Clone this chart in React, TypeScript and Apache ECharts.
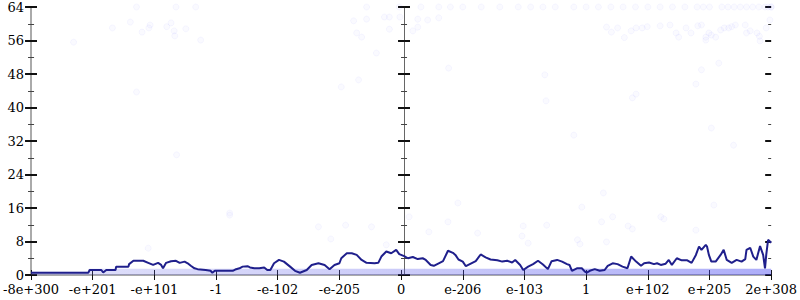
import React, { useEffect, useRef } from "react";
import * as echarts from "echarts";

const xTickLabels = ["-8e+300", "-e+201", "-e+101", "-1", "-e-102", "-e-205", "0", "e-206", "e-103", "1", "e+102", "e+205", "2e+308"];

const lineX = [0.00, 0.93, 0.95, 1.14, 1.17, 1.22, 1.37, 1.38, 1.58, 1.59, 1.66, 1.82, 1.90, 1.98, 2.06, 2.11, 2.14, 2.19, 2.27, 2.35, 2.41, 2.49, 2.54, 2.59, 2.65, 2.70, 2.83, 2.91, 2.94, 2.98, 3.10, 3.27, 3.31, 3.38, 3.43, 3.51, 3.55, 3.62, 3.70, 3.78, 3.83, 3.88, 3.94, 4.02, 4.10, 4.20, 4.28, 4.36, 4.47, 4.55, 4.66, 4.76, 4.84, 4.92, 5.00, 5.03, 5.12, 5.20, 5.28, 5.36, 5.44, 5.57, 5.63, 5.68, 5.76, 5.84, 5.92, 5.97, 6.05, 6.11, 6.19, 6.27, 6.35, 6.40, 6.48, 6.53, 6.61, 6.68, 6.76, 6.84, 6.88, 6.93, 7.00, 7.05, 7.13, 7.21, 7.29, 7.37, 7.45, 7.56, 7.64, 7.72, 7.80, 7.85, 7.93, 7.98, 8.06, 8.14, 8.22, 8.30, 8.38, 8.44, 8.53, 8.61, 8.69, 8.73, 8.77, 8.85, 8.93, 8.98, 9.01, 9.06, 9.14, 9.22, 9.30, 9.35, 9.43, 9.51, 9.59, 9.67, 9.73, 9.81, 9.89, 9.94, 10.02, 10.10, 10.15, 10.21, 10.29, 10.34, 10.39, 10.47, 10.55, 10.64, 10.71, 10.78, 10.83, 10.87, 10.94, 10.96, 10.99, 11.03, 11.10, 11.18, 11.23, 11.28, 11.36, 11.44, 11.52, 11.58, 11.60, 11.66, 11.71, 11.76, 11.82, 11.87, 11.90, 11.92, 11.95, 11.98, 12.00];
const lineY = [0.55, 0.55, 1.2, 1.2, 0.6, 1.2, 1.2, 2.0, 2.0, 2.6, 3.4, 3.4, 2.9, 2.4, 2.9, 2.4, 1.6, 2.9, 3.3, 3.4, 2.9, 3.2, 2.8, 2.2, 1.6, 1.4, 1.2, 1.0, 0.55, 1.0, 1.0, 1.0, 1.3, 1.6, 2.0, 2.1, 1.8, 1.6, 1.6, 1.8, 1.2, 1.2, 2.8, 3.6, 3.2, 2.0, 1.0, 0.55, 1.2, 2.4, 2.8, 2.4, 1.4, 2.4, 2.8, 4.0, 5.2, 5.2, 4.8, 3.6, 2.9, 2.8, 2.9, 4.4, 5.6, 5.2, 6.0, 5.0, 4.5, 4.0, 4.3, 3.8, 4.0, 3.6, 2.4, 2.2, 2.8, 3.3, 5.8, 5.3, 4.8, 3.7, 3.2, 2.1, 2.7, 3.3, 4.9, 4.2, 3.7, 3.5, 3.2, 3.4, 3.0, 3.6, 2.4, 1.2, 2.0, 2.6, 3.4, 2.5, 1.4, 3.3, 3.6, 3.2, 2.6, 2.4, 1.0, 1.6, 1.6, 0.8, 0.55, 1.0, 1.4, 1.0, 1.2, 2.2, 2.8, 2.6, 2.0, 1.6, 4.4, 3.2, 2.2, 2.8, 3.0, 2.6, 2.8, 2.4, 2.7, 3.6, 2.4, 4.0, 3.5, 3.5, 2.9, 4.8, 6.8, 6.0, 7.2, 6.8, 4.8, 3.2, 3.2, 4.8, 6.0, 3.6, 2.9, 3.6, 3.2, 3.8, 6.0, 6.5, 4.4, 3.6, 6.9, 4.8, 1.6, 4.8, 8.4, 8.0, 7.7];

const pointX = [0.69, 1.32, 1.61, 1.80, 1.91, 1.93, 2.20, 2.27, 2.32, 2.33, 2.51, 2.75, 1.71, 1.71, 2.35, 2.67, 2.36, 5.03, 5.31, 3.22, 1.90,
  5.23, 5.44, 5.73, 5.81, 5.98, 6.27, 6.43, 6.61, 5.28, 5.36, 5.81, 6.19, 6.27, 5.60, 5.44, 5.97, 6.32, 6.61,
  9.33, 9.41, 9.51, 9.62, 9.73, 9.81, 9.91, 9.99, 10.20, 10.36, 10.46, 10.50, 10.62, 10.70, 10.81, 10.87, 10.94, 10.94, 10.99, 11.03, 11.10, 11.18, 11.24, 11.31, 11.36, 11.42, 11.58, 11.60, 11.66, 11.77, 11.81, 11.82, 11.92, 11.98,
  11.15, 10.87, 10.78, 9.75, 9.81, 6.77, 8.33, 8.35, 8.80, 9.28, 11.39, 11.03, 10.78,
  6.92, 8.93, 6.13, 6.76, 6.45, 7.24, 7.98, 7.96, 8.06, 8.86, 8.90, 8.36, 3.22, 4.66, 5.10, 4.86, 5.52, 5.76, 9.25, 9.43, 9.68, 9.75, 10.21, 10.26, 11.07, 9.33,
  6.8, 7.0, 7.3, 7.6, 7.9, 8.1, 8.3, 8.5, 8.8, 9.0, 9.2, 9.4, 9.6, 9.8, 10.0, 10.2, 10.4, 10.6, 10.8, 10.9, 11.0, 11.2, 11.3, 11.4, 11.5, 11.6, 11.7, 11.8, 11.9, 11.95, 12.0, 12.0];
const pointY = [55.6, 59.0, 60.4, 58.0, 59.0, 59.7, 59.3, 60.2, 58.3, 57.1, 58.8, 56.1, 43.7, 64, 64, 64, 28.7, 44.9, 46.6, 14.8, 6.4,
  60.7, 61.1, 61.6, 61.6, 61.6, 61.1, 60.9, 61.4, 57.8, 56.8, 58.7, 58.3, 59.2, 53.0, 64, 64, 64, 64,
  59.2, 58.0, 59.0, 56.7, 58.3, 59.0, 59.0, 59.3, 59.5, 59.7, 57.8, 56.8, 59.0, 57.8, 59.5, 59.7, 56.8, 56.1, 57.8, 57.3, 56.8, 58.5, 59.0, 59.0, 59.3, 59.7, 59.7, 57.8, 58.3, 57.8, 57.0, 55.9, 59.0, 60.9,
  50.6, 49.0, 45.6, 42.3, 43.2, 49.4, 47.8, 41.6, 33.4, 19.6, 31.0, 35.1, 10.7,
  17.2, 16.2, 13.9, 12.7, 10.3, 10.0, 11.7, 9.3, 7.6, 8.4, 7.4, 11.9, 14.3, 11.5, 11.9, 8.6, 11.5, 7.2, 12.7, 13.9, 11.7, 11.0, 13.9, 13.4, 16.7, 7.9,
  64, 64, 64, 64, 64, 64, 64, 64, 64, 64, 64, 64, 64, 64, 64, 64, 64, 64, 64, 64, 64, 64, 64, 64, 64, 64, 64, 64, 64, 64, 64, 64];

const bandX = [0.00, 0.93, 0.94, 12.00];
const bandY = [0.8, 0.8, 1.5, 1.5];

const baseX = [0, 12];
const baseY = [0, 0];

const FONT = "DejaVu Serif";

function yAxisDef(position: "left" | "right", inside: boolean, labels: boolean, offset: number, lineColor: string, lineWidth: number, showLine: boolean) {
  return {
    type: "value",
    position,
    offset,
    min: 0,
    max: 64,
    interval: 8,
    splitLine: { show: false },
    axisLine: { show: showLine, lineStyle: { color: lineColor, width: lineWidth } },
    axisTick: { show: true, inside, length: 6, lineStyle: { color: "#111", width: 2 } },
    minorTick: { show: true, splitNumber: 2, length: 3, lineStyle: { color: "#444", width: 1 } },
    axisLabel: { show: labels, margin: 7, color: "#000", fontFamily: FONT, fontSize: 13 },
  };
}

export default function App() {
  const ref = useRef<HTMLDivElement>(null);
  useEffect(() => {
    if (!ref.current) return;
    document.body.style.margin = "0";
    const chart = echarts.init(ref.current, undefined, { renderer: "svg" });
    const line = lineX.map((x, i) => [x, lineY[i]]);
    const pts = pointX.map((x, i) => [x, pointY[i]]);
    const band = bandX.map((x, i) => [x, bandY[i]]);
    const base = baseX.map((x, i) => [x, baseY[i]]);
    chart.setOption({
      animation: false,
      backgroundColor: "#fff",
      grid: { left: 27, right: 27, top: 7, bottom: 25, containLabel: false },
      xAxis: [
        {
          type: "value", position: "bottom", min: 0, max: 12, interval: 1,
          splitLine: { show: false },
          axisLine: { show: false },
          axisTick: { show: true, inside: false, length: 5, lineStyle: { color: "#111", width: 1 } },
          axisLabel: { margin: 8, color: "#000", fontFamily: FONT, fontSize: 13, formatter: (v: number) => xTickLabels[Math.round(v)] ?? "" },
        },
        {
          type: "value", position: "bottom", min: 0, max: 12, interval: 1,
          splitLine: { show: false },
          axisLine: { show: false },
          axisTick: { show: true, inside: true, length: 5, lineStyle: { color: "#111", width: 1 } },
          axisLabel: { show: false },
        },
        {
          type: "value", position: "top", min: 0, max: 12, interval: 1,
          splitLine: { show: false },
          axisLine: { show: true, lineStyle: { color: "#aaa", width: 2 } },
          axisTick: { show: false },
          axisLabel: { show: false },
        },
      ],
      yAxis: [
        yAxisDef("left", false, true, 0, "#aaa", 2, true),
        yAxisDef("left", true, false, 0, "#aaa", 2, false),
        yAxisDef("right", false, false, 0, "#aaa", 2, true),
        yAxisDef("right", true, false, 0, "#aaa", 2, false),
        yAxisDef("left", false, false, -373, "#666", 1, true),
        yAxisDef("left", true, false, -373, "#666", 1, false),
      ],
      series: [
        {
          type: "scatter", data: pts, symbol: "circle", symbolSize: 6, clip: false,
          itemStyle: { color: "rgba(80,80,255,0.035)", borderColor: "rgba(80,80,255,0.06)", borderWidth: 1 },
          z: 1,
        },
        {
          type: "line", data: band, showSymbol: false, symbol: "none",
          lineStyle: { width: 0 },
          areaStyle: {
            color: new echarts.graphic.LinearGradient(0, 0, 1, 0, [
              { offset: 0, color: "rgba(110,110,230,0.3)" },
              { offset: 0.5, color: "rgba(90,90,235,0.45)" },
              { offset: 1, color: "rgba(60,60,240,0.6)" },
            ]),
          },
          z: 2,
        },
        {
          type: "line", data: base, showSymbol: false, symbol: "none",
          lineStyle: {
            width: 3,
            color: new echarts.graphic.LinearGradient(0, 0, 1, 0, [
              { offset: 0, color: "#6a6ae0" },
              { offset: 0.5, color: "#4545e8" },
              { offset: 1, color: "#1e1ef2" },
            ]),
          },
          z: 3,
        },
        {
          type: "line", data: line, showSymbol: false, symbol: "none",
          lineStyle: { width: 2, color: "#1f1f8c" },
          z: 4,
        },
      ],
    });
    return () => chart.dispose();
  }, []);
  return <div ref={ref} style={{ width: 800, height: 300 }} />;
}
